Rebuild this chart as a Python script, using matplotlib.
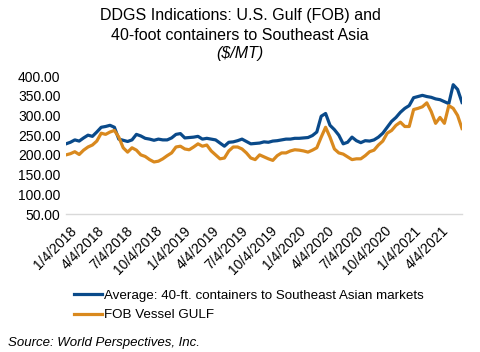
import matplotlib
matplotlib.use('Agg')
import matplotlib.pyplot as plt
import matplotlib.transforms as mtransforms
import pandas as pd

plt.rcParams['font.family'] = ['Liberation Sans', 'DejaVu Sans']

# biweekly observations starting 1/4/2018
dates = pd.date_range('2018-01-04', periods=91, freq='14D')

container = [228, 232, 238, 235, 243, 250, 247, 258, 270, 272,
             275, 270, 240, 237, 234, 238, 252, 248, 242, 240,
             237, 240, 238, 238, 243, 252, 254, 243, 244, 245,
             247, 240, 242, 240, 238, 230, 222, 232, 233, 236,
             240, 234, 228, 229, 230, 233, 232, 235, 236, 238,
             240, 240, 242, 242, 243, 244, 249, 258, 298, 305,
             275, 264, 250, 228, 232, 245, 236, 231, 236, 235,
             238, 245, 255, 270, 285, 295, 308, 318, 325, 345,
             348, 351, 348, 346, 342, 340, 335, 330, 378, 366,
             333]

fob_gulf = [200, 203, 208, 201, 212, 220, 225, 235, 255, 252,
            258, 262, 245, 218, 207, 218, 212, 200, 196, 188,
            182, 184, 190, 198, 205, 220, 222, 215, 213, 220,
            228, 222, 225, 210, 200, 190, 192, 210, 220, 220,
            215, 205, 192, 188, 200, 195, 190, 186, 198, 205,
            205, 210, 213, 212, 210, 207, 212, 218, 245, 270,
            245, 215, 205, 202, 195, 188, 190, 190, 198, 208,
            212, 225, 235, 255, 262, 275, 283, 272, 272, 315,
            318, 322, 332, 310, 280, 295, 280, 325, 318, 300,
            267]

tick_dates = pd.to_datetime(['2018-01-04', '2018-04-04', '2018-07-04', '2018-10-04',
                             '2019-01-04', '2019-04-04', '2019-07-04', '2019-10-04',
                             '2020-01-04', '2020-04-04', '2020-07-04', '2020-10-04',
                             '2021-01-04', '2021-04-04'])
tick_labels = ['1/4/2018', '4/4/2018', '7/4/2018', '10/4/2018',
               '1/4/2019', '4/4/2019', '7/4/2019', '10/4/2019',
               '1/4/2020', '4/4/2020', '7/4/2020', '10/4/2020',
               '1/4/2021', '4/4/2021']
y_ticks = [50, 100, 150, 200, 250, 300, 350, 400]

fig = plt.figure(figsize=(4.8, 3.52), dpi=100)
ax = fig.add_axes([0.1375, 0.392, 0.825, 0.392])

blue = '#0a4a8a'
orange = '#d9891e'
ax.plot(dates, container, color=blue, lw=2.3,
        label='Average: 40-ft. containers to Southeast Asian markets')
ax.plot(dates, fob_gulf, color=orange, lw=2.3, label='FOB Vessel GULF')

ax.set_xlim(dates[0], dates[-1])
ax.set_ylim(50, 400)
ax.set_yticks(y_ticks)
ax.set_yticklabels([f'{v:.2f}' for v in y_ticks], fontsize=10)
ax.set_xticks(tick_dates)
ax.set_xticklabels(tick_labels, fontsize=10, rotation=45, ha='right',
                   rotation_mode='anchor')
ax.tick_params(axis='y', length=0, pad=4)
ax.tick_params(axis='x', length=0, pad=7)
shift = mtransforms.ScaledTranslation(3 / 100, 0, fig.dpi_scale_trans)
for lab in ax.get_xticklabels():
    lab.set_transform(lab.get_transform() + shift)

for s in ['top', 'right', 'left']:
    ax.spines[s].set_visible(False)
ax.spines['bottom'].set_color('#d9d9d9')
ax.spines['bottom'].set_linewidth(1)

fig.text(0.5, 0.955, 'DDGS Indications: U.S. Gulf (FOB) and', ha='center', va='center', fontsize=11.5)
fig.text(0.5, 0.90, '40-foot containers to Southeast Asia', ha='center', va='center', fontsize=11.5)
fig.text(0.5, 0.849, '($/MT)', ha='center', va='center', fontsize=11.5, style='italic')

fig.legend(loc='upper left', bbox_to_anchor=(0.154, 0.178), frameon=False,
           fontsize=9.6, handlelength=2.1, handletextpad=0.15, labelspacing=0.55,
           borderpad=0, borderaxespad=0)

fig.text(0.017, 0.026, 'Source: World Perspectives, Inc.', fontsize=9.5, style='italic',
         va='center')

plt.savefig('out.png', dpi=100)
